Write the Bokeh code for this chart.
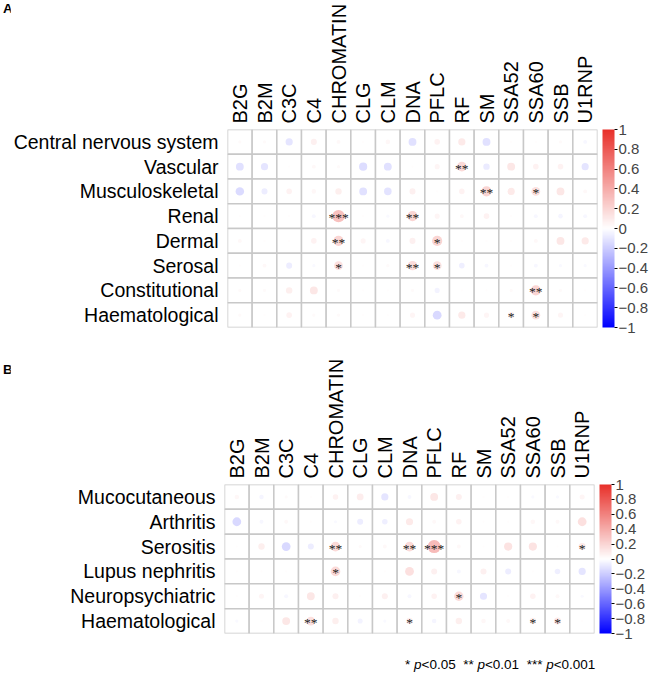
import numpy as np
from bokeh.plotting import figure
from bokeh.models import (ColumnDataSource, FactorRange, LinearColorMapper, ColorBar,
                          FixedTicker, CustomJSTickFormatter, AllLabels, Div)
from bokeh.layouts import column, row
from bokeh.transform import transform
from bokeh.embed import file_html
from bokeh.resources import INLINE

# ---------------- data ----------------
antibodies = ["B2G", "B2M", "C3C", "C4", "CHROMATIN", "CLG", "CLM", "DNA", "PFLC",
              "RF", "SM", "SSA52", "SSA60", "SSB", "U1RNP"]

domains_a = ["Central nervous system", "Vascular", "Musculoskeletal", "Renal",
             "Dermal", "Serosal", "Constitutional", "Haematological"]
corr_a = [
    [0.02, 0.02, -0.10, 0.07, 0.03, 0.01, 0.04, -0.12, 0.06, 0.10, -0.12, 0.01, 0.01, 0.02, -0.03],
    [-0.12, -0.10, 0.01, 0.03, 0.02, -0.13, -0.12, 0.01, 0.05, 0.18, -0.08, 0.12, 0.06, 0.06, -0.10],
    [-0.14, -0.07, 0.06, 0.04, 0.08, -0.12, -0.11, 0.07, 0.01, 0.06, 0.20, 0.10, 0.15, 0.12, 0.03],
    [0.01, 0.01, 0.01, -0.03, 0.30, 0.01, -0.02, 0.20, 0.05, 0.03, 0.06, 0.01, -0.03, -0.04, -0.03],
    [0.03, 0.01, 0.01, 0.06, 0.20, 0.05, -0.03, 0.07, 0.20, 0.01, 0.01, 0.01, 0.03, 0.12, 0.10],
    [0.01, 0.03, -0.07, -0.02, 0.15, 0.01, 0.02, 0.17, 0.15, -0.06, -0.03, 0.01, -0.03, -0.02, -0.02],
    [0.02, 0.02, 0.08, 0.12, 0.02, 0.01, 0.01, 0.02, -0.05, 0.01, 0.01, 0.02, 0.20, 0.02, 0.01],
    [0.02, 0.01, 0.06, 0.02, 0.02, 0.01, 0.01, 0.05, -0.15, 0.10, 0.05, 0.08, 0.15, 0.05, 0.01],
]
stars_a = [
    ["", "", "", "", "", "", "", "", "", "", "", "", "", "", ""],
    ["", "", "", "", "", "", "", "", "", "**", "", "", "", "", ""],
    ["", "", "", "", "", "", "", "", "", "", "**", "", "*", "", ""],
    ["", "", "", "", "***", "", "", "**", "", "", "", "", "", "", ""],
    ["", "", "", "", "**", "", "", "", "*", "", "", "", "", "", ""],
    ["", "", "", "", "*", "", "", "**", "*", "", "", "", "", "", ""],
    ["", "", "", "", "", "", "", "", "", "", "", "", "**", "", ""],
    ["", "", "", "", "", "", "", "", "", "", "", "*", "*", "", ""],
]

domains_b = ["Mucocutaneous", "Arthritis", "Serositis", "Lupus nephritis",
             "Neuropsychiatric", "Haematological"]
corr_b = [
    [0.04, -0.04, 0.02, 0.01, 0.06, 0.09, -0.10, -0.03, 0.12, 0.07, 0.01, 0.01, -0.02, -0.02, 0.05],
    [-0.15, -0.03, 0.03, 0.01, -0.02, -0.07, -0.06, 0.10, 0.03, 0.06, 0.01, 0.01, 0.04, 0.03, 0.15],
    [0.01, 0.08, -0.15, -0.07, 0.18, 0.02, 0.03, 0.18, 0.33, 0.03, 0.01, 0.13, 0.13, 0.01, 0.10],
    [0.01, 0.01, 0.01, 0.01, 0.18, 0.01, 0.01, 0.15, 0.07, -0.03, 0.07, -0.07, 0.01, -0.06, -0.10],
    [0.01, 0.05, -0.03, 0.12, 0.07, 0.01, 0.07, -0.03, 0.06, 0.17, -0.10, 0.01, 0.06, 0.03, -0.02],
    [-0.02, 0.01, 0.12, 0.15, 0.08, -0.05, -0.02, 0.08, -0.04, 0.08, 0.04, 0.03, 0.08, 0.10, 0.01],
]
stars_b = [
    ["", "", "", "", "", "", "", "", "", "", "", "", "", "", ""],
    ["", "", "", "", "", "", "", "", "", "", "", "", "", "", ""],
    ["", "", "", "", "**", "", "", "**", "***", "", "", "", "", "", "*"],
    ["", "", "", "", "*", "", "", "", "", "", "", "", "", "", ""],
    ["", "", "", "", "", "", "", "", "", "*", "", "", "", "", ""],
    ["", "", "", "**", "", "", "", "*", "", "", "", "", "*", "*", ""],
]

colorbar_ticks = [-1, -0.8, -0.6, -0.4, -0.2, 0, 0.2, 0.4, 0.6, 0.8, 1]
sig_stars = ["*", "**", "***"]
sig_levels = ["0.05", "0.01", "0.001"]

# ---------------- styling ----------------
FONT = "Liberation Sans"
FRAME_W = 370
GUTTER = 10
LEFT, RIGHT = 214, 55


def ramp(c1, c2, n):
    a = np.array([int(c1[i:i + 2], 16) for i in (1, 3, 5)], float)
    b = np.array([int(c2[i:i + 2], 16) for i in (1, 3, 5)], float)
    out = []
    for t in np.linspace(0, 1, n):
        c = a + (b - a) * t
        out.append("#%02x%02x%02x" % tuple(int(round(x)) for x in c))
    return out


palette = ramp("#0000FF", "#FFFFFF", 128) + ramp("#FFFFFF", "#E8302A", 128)[1:]
mapper = LinearColorMapper(palette=palette, low=-1, high=1)

cb_code = """
const v = Math.round(tick*10)/10;
if (v === 0) return "0";
const s = Number.isInteger(v) ? Math.abs(v).toString() : Math.abs(v).toFixed(1);
return (v < 0 ? "\u2212" : "") + s;
"""


def make_panel(rows, vals, stars, frame_h, top, bottom):
    xs, ys, vs, rad, st = [], [], [], [], []
    for i, rname in enumerate(rows):
        for j, c in enumerate(antibodies):
            xs.append(c)
            ys.append(rname)
            vs.append(vals[i][j])
            rad.append(0.46 * np.sqrt(abs(vals[i][j])))
            st.append(stars[i][j])
    src = ColumnDataSource(dict(x=xs, y=ys, v=vs, r=rad, s=st))

    p = figure(x_range=FactorRange(factors=antibodies),
               y_range=FactorRange(factors=list(reversed(rows))),
               frame_width=FRAME_W, frame_height=frame_h,
               x_axis_location="above", output_backend="svg", toolbar_location=None,
               min_border_left=LEFT, min_border_right=RIGHT,
               min_border_top=top, min_border_bottom=bottom,
               background_fill_color="white", border_fill_color="white")
    p.outline_line_color = None
    p.grid.visible = False

    p.rect(x="x", y="y", width=1, height=1, source=src, fill_color="white",
           line_color="#C8C8C8", line_width=1.5)
    p.circle(x="x", y="y", radius="r", source=src,
             fill_color=transform("v", mapper), line_color=None)
    p.text(x="x", y="y", text="s", source=src, text_align="center",
           text_baseline="middle", text_font_size="13.5px", y_offset=1.5,
           text_color="#222222", text_font=FONT)

    for ax in (p.xaxis[0], p.yaxis[0]):
        ax.axis_line_color = None
        ax.major_tick_line_color = None
        ax.minor_tick_line_color = None
        ax.major_tick_in = 0
        ax.major_tick_out = 0
        ax.major_label_text_font = FONT
        ax.major_label_text_color = "black"
    p.xaxis[0].major_label_text_font_size = "20px"
    p.yaxis[0].major_label_text_font_size = "19.5px"
    p.xaxis[0].major_label_orientation = np.pi / 2
    p.xaxis[0].major_label_standoff = 6
    p.yaxis[0].major_label_standoff = 9

    cb = ColorBar(color_mapper=mapper, location=(FRAME_W + 5, 0), width=12, height=frame_h,
                  padding=0, margin=0, ticker=FixedTicker(ticks=colorbar_ticks),
                  formatter=CustomJSTickFormatter(code=cb_code),
                  major_label_policy=AllLabels(),
                  major_tick_in=0, major_tick_out=3, major_tick_line_color="black",
                  minor_tick_line_color=None, label_standoff=1,
                  major_label_text_font=FONT, major_label_text_font_size="15px",
                  bar_line_color=None, border_line_color=None, background_fill_alpha=0)
    p.add_layout(cb)
    return p


hA_top, hA_frame, hA_bot = 128, 198, 10
hB_top, hB_frame, hB_bot = 147, 149, 23
pA = make_panel(domains_a, corr_a, stars_a, hA_frame, hA_top, hA_bot)
pB = make_panel(domains_b, corr_b, stars_b, hB_frame, hB_top, hB_bot)

letter_css = ("font: bold 13.5px 'Liberation Sans', Arial, sans-serif; line-height: 15px; "
              "padding: %dpx 0 0 3px; margin: 0; color: black;")
divA = Div(text='<div style="%s">A</div>' % (letter_css % 1),
           width=GUTTER, height=hA_top + hA_frame + hA_bot, margin=0)
divB = Div(text='<div style="%s">B</div>' % (letter_css % 25),
           width=GUTTER, height=hB_top + hB_frame + hB_bot, margin=0)

parts = []
for st, lv in zip(sig_stars, sig_levels):
    parts.append("%s <i>p</i>&lt;%s" % (st, lv))
foot_html = ('<div style="font: 13.5px \'Liberation Sans\', Arial, sans-serif; line-height: 16px; '
             'white-space: pre; padding: 1px 0 0 405px; margin: 0; color: black;">%s</div>'
             % "  ".join(parts))
divF = Div(text=foot_html, width=GUTTER + LEFT + FRAME_W + RIGHT, height=18, margin=0)

layout = column(row(divA, pA, spacing=0), row(divB, pB, spacing=0), divF, spacing=0)
open("out.html", "w").write(file_html(layout, INLINE))
